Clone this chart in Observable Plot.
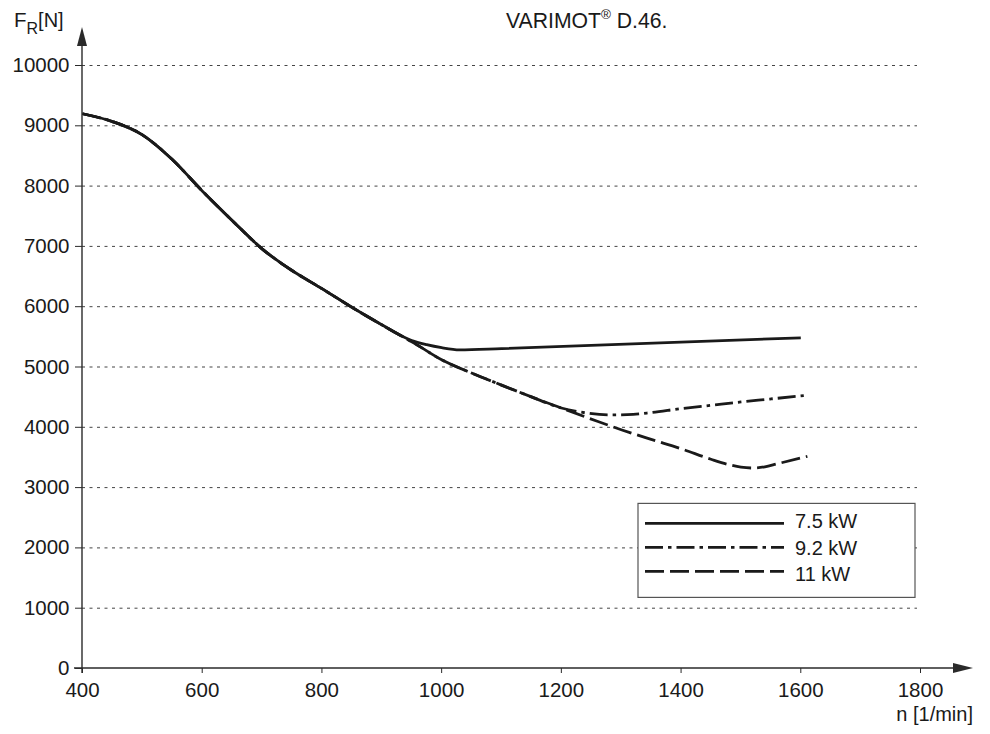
<!DOCTYPE html>
<html>
<head>
<meta charset="utf-8">
<script src="https://cdn.jsdelivr.net/npm/d3@7"></script>
<script src="https://cdn.jsdelivr.net/npm/@observablehq/plot@0.6"></script>
<style>
  html, body { margin: 0; padding: 0; background: #fff; }
  #chart svg { display: block; }
</style>
</head>
<body>
<div id="chart"></div>
<script>
// ---- Data ----
const xTicks = [400, 600, 800, 1000, 1200, 1400, 1600, 1800];
const yTicks = [0, 1000, 2000, 3000, 4000, 5000, 6000, 7000, 8000, 9000, 10000];
const gridValues = [1000, 2000, 3000, 4000, 5000, 6000, 7000, 8000, 9000, 10000];

// common descending part (all three ratings)
const nShared = [400, 450, 500, 550, 600, 650, 700, 750, 800, 850, 900, 930];
const fShared = [9200, 9070, 8850, 8440, 7920, 7430, 6960, 6600, 6300, 5990, 5700, 5530];
// 7.5 kW tail
const nSolidTail = [950, 975, 1000, 1030, 1100, 1600];
const fSolidTail = [5440, 5370, 5320, 5285, 5304, 5484];
// 9.2 kW and 11 kW shared tail
const nDropTail = [950, 1000, 1050, 1100, 1150, 1200];
const fDropTail = [5420, 5120, 4900, 4700, 4505, 4320];
// 9.2 kW tail
const nDashDotTail = [1240, 1280, 1320, 1350, 1400, 1450, 1500, 1550, 1605];
const fDashDotTail = [4240, 4205, 4215, 4245, 4310, 4365, 4420, 4470, 4527];
// 11 kW tail
const nDashTail = [1260, 1300, 1350, 1400, 1450, 1480, 1500, 1520, 1540, 1560, 1611];
const fDashTail = [4100, 3960, 3800, 3645, 3470, 3380, 3340, 3325, 3345, 3393, 3518];

const seriesLabels = ["7.5 kW", "9.2 kW", "11 kW"];
const titleMain = "VARIMOT";
const titleSup = "®";
const titleRest = " D.46.";
const xLabel = "n [1/min]";

// ---- build tables ----
const rows = (ns, fs) => ns.map((n, i) => ({n, f: fs[i]}));
const s75 = rows(nShared.concat(nSolidTail), fShared.concat(fSolidTail));
const s92 = rows(nShared.concat(nDropTail, nDashDotTail), fShared.concat(fDropTail, fDashDotTail));
const s11 = rows(nShared.concat(nDropTail, nDashTail), fShared.concat(fDropTail, fDashTail));

const ink = "#1a1a1a";
const dashes = [null, "18,5,3.5,5", "19,6"];
const font = "'Liberation Sans', Arial, Helvetica, sans-serif";

const curve = (data, dash) => Plot.line(data, {
  x: "n", y: "f", stroke: ink, strokeWidth: 2.8, curve: "monotone-x",
  strokeDasharray: dash, strokeLinecap: "butt"
});

function decor(index, scales) {
  const g = d3.create("svg:g").attr("font-family", font).attr("fill", ink).attr("text-anchor", "start");
  const x0 = scales.x(400), y0 = scales.y(0);
  const xEnd = scales.x(1800), yTop = scales.y(10000);
  const axisColor = "#2a2a2a";
  // x axis with arrow
  g.append("line").attr("x1", x0 - 8).attr("x2", xEnd + 35).attr("y1", y0).attr("y2", y0)
    .attr("stroke", axisColor).attr("stroke-width", 1.4);
  g.append("path").attr("d", `M${xEnd + 53},${y0} L${xEnd + 33},${y0 - 5} L${xEnd + 33},${y0 + 5}Z`).attr("fill", axisColor);
  // y axis with arrow
  g.append("line").attr("x1", x0).attr("x2", x0).attr("y1", y0 + 5).attr("y2", yTop - 20)
    .attr("stroke", axisColor).attr("stroke-width", 1.4);
  g.append("path").attr("d", `M${x0},${yTop - 38} L${x0 - 5},${yTop - 19} L${x0 + 5},${yTop - 19}Z`).attr("fill", axisColor);

  // title
  const t = g.append("text").attr("x", 506).attr("y", 28).attr("font-size", 21.2).attr("text-anchor", "start");
  t.append("tspan").text(titleMain);
  t.append("tspan").attr("dy", -9).attr("font-size", 13.5).text(titleSup);
  t.append("tspan").attr("dy", 9).text(titleRest);

  // y label F_R[N]
  const yl = g.append("text").attr("x", 14).attr("y", 27).attr("font-size", 20.5).attr("text-anchor", "start");
  yl.append("tspan").text("F");
  yl.append("tspan").attr("dy", 7).attr("font-size", 16).text("R");
  yl.append("tspan").attr("dy", -7).attr("font-size", 20).text("[N]");

  // x label
  g.append("text").attr("x", xEnd + 53).attr("y", y0 + 53).attr("text-anchor", "end")
    .attr("font-size", 20).text(xLabel);

  // legend
  const rowMid = scales.y(2000);
  const bx0 = xEnd - 282, bx1 = xEnd - 5;
  g.append("rect").attr("x", bx0).attr("y", rowMid - 44).attr("width", bx1 - bx0).attr("height", 94)
    .attr("fill", "#fff").attr("stroke", "#555").attr("stroke-width", 1.2);
  seriesLabels.forEach((lab, i) => {
    const yy = rowMid + (i - 1) * 24;
    const ln = g.append("line").attr("x1", bx0 + 7).attr("x2", bx0 + 146).attr("y1", yy).attr("y2", yy)
      .attr("stroke", ink).attr("stroke-width", 2.6);
    if (dashes[i]) ln.attr("stroke-dasharray", dashes[i]);
    g.append("text").attr("x", bx0 + 157).attr("y", yy + (i - 1) * 2.5).attr("dy", "0.36em")
      .attr("text-anchor", "start").attr("font-size", 20).text(lab);
  });
  return g.node();
}

const chart = Plot.plot({
  width: 990,
  height: 734,
  marginLeft: 82,
  marginRight: 70,
  marginTop: 65,
  marginBottom: 66,
  style: {fontFamily: font, fontSize: "20px", color: ink, background: "#fff", overflow: "visible"},
  x: {domain: [400, 1800], axis: null},
  y: {domain: [0, 10000], axis: null},
  marks: [
    Plot.ruleY(gridValues, {x1: 400, x2: 1795, stroke: "#444", strokeWidth: 1, strokeDasharray: "3,4.5"}),
    Plot.axisX(xTicks, {tickSize: 5, tickPadding: 9, fontSize: 20.5, label: null, tickFormat: d => String(d), stroke: "#2a2a2a", fill: ink}),
    Plot.axisY(yTicks, {tickSize: 7, tickPadding: 6, fontSize: 20.5, label: null, tickFormat: d => String(d), stroke: "#2a2a2a", fill: ink}),
    curve(s11, dashes[2]),
    curve(s92, dashes[1]),
    curve(s75, null),
    decor
  ]
});
document.getElementById("chart").appendChild(chart);
</script>
</body>
</html>
